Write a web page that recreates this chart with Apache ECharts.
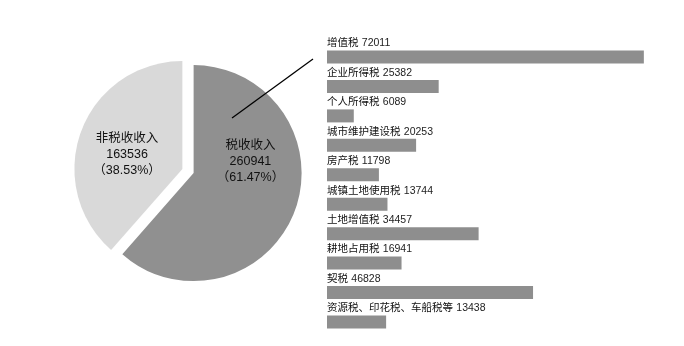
<!DOCTYPE html>
<html>
<head>
<meta charset="utf-8">
<script src="https://cdn.jsdelivr.net/npm/echarts@6/dist/echarts.min.js"></script>
<style>
  html, body { margin: 0; padding: 0; background: #fff; }
  #chart { width: 684px; height: 346px; }
</style>
</head>
<body>
<div id="chart"></div>
<script>
// Revenue split: tax vs non-tax (tax first so it starts at 12 o'clock)
const revenueNames = ['税收收入', '非税收收入'];
const revenueValues = [260941, 163536];
const revenueShares = ['61.47%', '38.53%'];
const revenueColors = ['#909090', '#d9d9d9'];

// Breakdown of tax revenue by tax type
const taxNames = ['增值税', '企业所得税', '个人所得税', '城市维护建设税', '房产税',
  '城镇土地使用税', '土地增值税', '耕地占用税', '契税', '资源税、印花税、车船税等'];
const taxValues = [72011, 25382, 6089, 20253, 11798, 13744, 34457, 16941, 46828, 13438];

const FONT = '"Liberation Sans", "Noto Sans CJK SC", sans-serif';
const PIE_CENTER = [188, 171];
const PIE_RADIUS = 108;

const chart = echarts.init(document.getElementById('chart'), null, { renderer: 'canvas' });

const option = {
  animation: false,
  backgroundColor: '#ffffff',
  grid: { left: 327, right: 5, top: 42.3, bottom: 9.3, containLabel: false },
  xAxis: { type: 'value', min: 0, max: 80000, show: false },
  yAxis: { type: 'category', data: taxNames, inverse: true, show: false },
  series: [
    {
      type: 'pie',
      center: PIE_CENTER,
      radius: [0, PIE_RADIUS],
      startAngle: 90,
      clockwise: true,
      selectedMode: 'multiple',
      selectedOffset: 6,
      silent: true,
      data: revenueNames.map((n, i) => ({
        name: n,
        value: revenueValues[i],
        selected: true,
        itemStyle: { color: revenueColors[i] }
      })),
      select: { itemStyle: { borderWidth: 0 } },
      label: {
        show: true,
        position: 'inside',
        fontFamily: FONT,
        fontSize: 12.5,
        lineHeight: 16,
        color: '#111',
        align: 'center',
        formatter: p => p.name + '\n' + p.value + '\n（' + revenueShares[p.dataIndex] + '）'
      },
      labelLine: { show: false },
      labelLayout: p => (p.dataIndex === 1 ? { dx: -2, dy: 6 } : { dx: 3.5, dy: -31.5 })
    },
    {
      type: 'bar',
      data: taxValues,
      barWidth: 13,
      itemStyle: { color: '#8e8e8e' },
      silent: true,
      label: {
        show: true,
        position: [0, -1],
        align: 'left',
        verticalAlign: 'bottom',
        fontFamily: FONT,
        color: '#111',
        formatter: p => '{n|' + taxNames[p.dataIndex] + '} {v|' + p.value + '}',
        rich: {
          n: { fontSize: 10.5, fontFamily: FONT, color: '#111' },
          v: { fontSize: 10.5, fontFamily: FONT, color: '#222' }
        }
      }
    }
  ]
};

chart.setOption(option);

// Callout line from the tax slice to the head of the breakdown bars
const barHead = chart.convertToPixel({ gridIndex: 0 }, [0, taxNames[0]]);
chart.setOption({
  graphic: [{
    type: 'line',
    silent: true,
    z: 100,
    shape: {
      x1: PIE_CENTER[0] + 44, y1: PIE_CENTER[1] - 53,
      x2: barHead[0] - 14, y2: barHead[1] + 2
    },
    style: { stroke: '#000', lineWidth: 1.3 }
  }]
});
</script>
</body>
</html>
